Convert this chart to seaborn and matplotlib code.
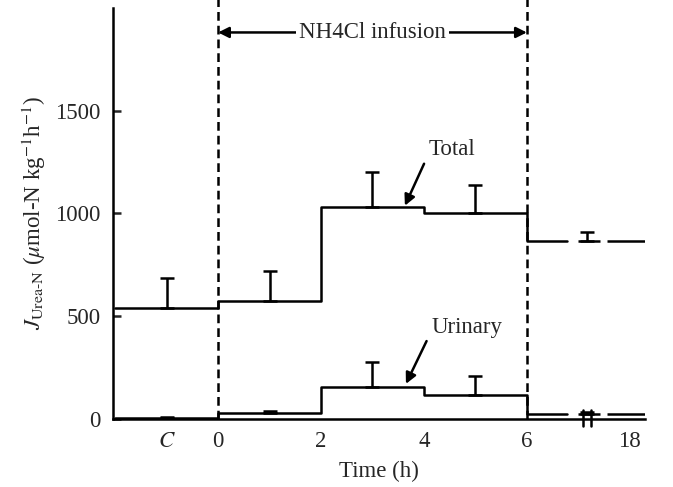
import numpy as np
import pandas as pd
import matplotlib
matplotlib.use("Agg")
import matplotlib.pyplot as plt
import seaborn as sns

# Sampling periods: control, three 2-h infusion periods, and the 18-h recovery sample
period_labels = ["C", "0-2", "2-4", "4-6", "18"]
total_mean = [540, 575, 1030, 1000, 865]
total_se = [145, 145, 170, 140, 45]
urinary_mean = [3, 27, 154, 117, 22]
urinary_se = [6, 12, 122, 92, 12]

tick_positions = [-1, 0, 2, 4, 6, 8]
tick_labels = ["$C$", "0", "2", "4", "6", "18"]
y_ticks = [0, 500, 1000, 1500]

# Layout of the time axis (hours, with the gap before 18 h compressed)
period_edges = [-2, 0, 2, 4, 6]
period_centers = [-1, 1, 3, 5, 7.17]
tail_segments = [(6.0, 6.78), (6.99, 7.43), (7.55, 8.29)]
break_marks = [7.10, 7.24]

sns.set_theme(style="ticks")
plt.rcParams["font.family"] = ["Liberation Serif", "DejaVu Serif"]
plt.rcParams["mathtext.fontset"] = "stix"
plt.rcParams["font.size"] = 16.5

fig = plt.figure(figsize=(6.73, 4.87), dpi=100)
ax = fig.add_axes([0.168, 0.140, 0.790, 0.844])

LW = 1.8
FS = 16.5

def step_frame(name, means):
    xs = list(period_edges) + [tail_segments[0][1]]
    ys = list(means) + [means[-1]]
    return pd.DataFrame({"time": xs, "flux": ys, "series": name})

df = pd.concat([step_frame("Total", total_mean), step_frame("Urinary", urinary_mean)],
               ignore_index=True)
sns.lineplot(data=df, x="time", y="flux", units="series", estimator=None, sort=False,
             color="black", linewidth=LW, drawstyle="steps-post", ax=ax, legend=False)

# Broken pieces of the recovery level
for means in (total_mean, urinary_mean):
    for x0, x1 in tail_segments[1:]:
        ax.hlines(means[-1], x0, x1, color="black", linewidth=LW)

# Upper SE bars
for means, se in ((total_mean, total_se), (urinary_mean, urinary_se)):
    ax.errorbar(period_centers, means, yerr=[np.zeros(len(se)), se], fmt="none",
                ecolor="black", elinewidth=LW, capsize=5, capthick=LW)

# Infusion window
for xv in (0, 6):
    ax.plot([xv, xv], [0, 2050], color="black", linewidth=LW,
            linestyle=(0, (3.5, 2)), clip_on=False)

ax.annotate("", xy=(0, 1880), xytext=(6, 1880),
            arrowprops=dict(arrowstyle="<|-|>", color="black", lw=LW, mutation_scale=16,
                            shrinkA=0, shrinkB=0))
ax.text(3, 1880, "NH4Cl infusion", ha="center", va="center", fontsize=FS,
        bbox=dict(facecolor="white", edgecolor="none", pad=2))

# Series labels
ax.annotate("Total", xy=(3.63, 1037), xytext=(4.1, 1310), ha="left", va="center",
            fontsize=FS,
            arrowprops=dict(arrowstyle="-|>", color="black", lw=LW, mutation_scale=16,
                            shrinkA=3, shrinkB=0, relpos=(0, 0.35)))
ax.annotate("Urinary", xy=(3.65, 170), xytext=(4.15, 445), ha="left", va="center",
            fontsize=FS,
            arrowprops=dict(arrowstyle="-|>", color="black", lw=LW, mutation_scale=16,
                            shrinkA=3, shrinkB=0, relpos=(0, 0.35)))

# Axis break on the time axis
for xb in break_marks:
    ax.plot([xb, xb], [-33, 44], color="black", linewidth=LW, clip_on=False)

ax.set_xlim(-2.04, 8.29)
ax.set_ylim(0, 2000)
ax.set_xticks(tick_positions)
ax.set_xticklabels(tick_labels)
ax.set_yticks(y_ticks)
ax.tick_params(axis="x", length=0, pad=9, labelsize=FS)
ax.tick_params(axis="y", direction="in", length=6, width=LW, pad=9, labelsize=FS)
for side in ("top", "right"):
    ax.spines[side].set_visible(False)
for side in ("left", "bottom"):
    ax.spines[side].set_linewidth(LW)
    ax.spines[side].set_color("black")

ax.set_xlabel("Time (h)", fontsize=FS, labelpad=6)
ax.set_ylabel(r"$J_{\mathrm{Urea\text{-}N}}$ ($\mu$mol-N kg$^{-1}$h$^{-1}$)", fontsize=FS,
              labelpad=5)

fig.savefig("out.png", dpi=100)
